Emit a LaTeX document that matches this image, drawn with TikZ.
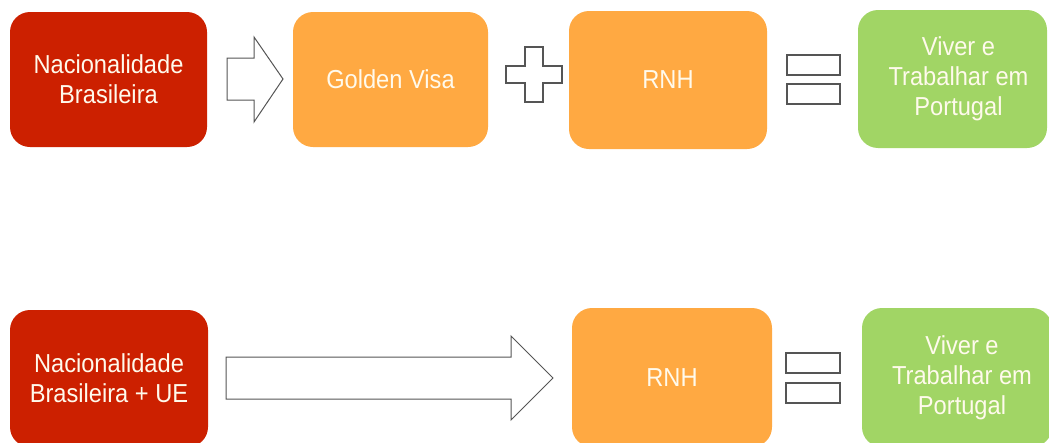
\documentclass[tikz,border=0pt]{standalone}
\usepackage{fontspec}
\setmainfont{Liberation Sans}[FakeStretch=0.91]
\definecolor{boxred}{RGB}{204,32,0}
\definecolor{boxorange}{RGB}{255,169,66}
\definecolor{boxgreen}{RGB}{161,213,101}
\definecolor{boxtext}{RGB}{255,250,236}
\definecolor{symline}{RGB}{85,85,85}
\begin{document}
\begin{tikzpicture}[x=1pt,y=-1pt,
  card/.style={rectangle, rounded corners=20pt, inner sep=0pt, align=center,
    text=boxtext, font=\fontsize{26}{30}\selectfont},
  redcard/.style={card, fill=boxred},
  orangecard/.style={card, fill=boxorange},
  greencard/.style={card, fill=boxgreen},
  bigarrow/.style={draw=symline, fill=white, line width=1pt, line join=miter},
  symbol/.style={draw=symline, fill=white, line width=1.6pt}
]
\useasboundingbox (0,0) rectangle (1049,442);

% upper row
\node[redcard, minimum width=197pt, minimum height=135pt] (nac1) at (108.5,79.5)
  {Nacionalidade\\Brasileira};
\node[orangecard, minimum width=195pt, minimum height=135pt] (gv) at (390.5,79.5)
  {Golden Visa};
\node[orangecard, minimum width=198pt, minimum height=138pt] (rnh1) at (668,80)
  {RNH};
\node[greencard, minimum width=189pt, minimum height=138pt] (viv1) at (952.5,79)
  {\hspace*{12pt}Viver e\\\hspace*{12pt}Trabalhar em\\\hspace*{12pt}Portugal};

% block arrow between the first two cards
\draw[bigarrow] (227,58) -- (254,58) -- (254,37) -- (283,79) -- (254,122)
  -- (254,100) -- (227,100) -- cycle;

% plus sign
\draw[symbol] (525,47) -- (543,47) -- (543,66) -- (562,66) -- (562,83)
  -- (543,83) -- (543,102) -- (525,102) -- (525,83) -- (506,83)
  -- (506,66) -- (525,66) -- cycle;

% equals sign
\draw[symbol] (787,55) rectangle (840,75);
\draw[symbol] (787,84) rectangle (840,104);

% lower row
\node[redcard, minimum width=198pt, minimum height=137pt] (nac2) at (109,378.5)
  {Nacionalidade\\Brasileira + UE};
\node[orangecard, minimum width=200pt, minimum height=139pt] (rnh2) at (672,377.5)
  {RNH};
\node[greencard, minimum width=190pt, minimum height=139pt] (viv2) at (957,377.5)
  {\hspace*{10pt}Viver e\\\hspace*{10pt}Trabalhar em\\\hspace*{10pt}Portugal};

% long block arrow
\draw[bigarrow] (226,357) -- (511,357) -- (511,336) -- (553,378) -- (511,420)
  -- (511,399) -- (226,399) -- cycle;

% equals sign
\draw[symbol] (786,353) rectangle (840,373);
\draw[symbol] (786,383) rectangle (840,403);
\end{tikzpicture}
\end{document}
